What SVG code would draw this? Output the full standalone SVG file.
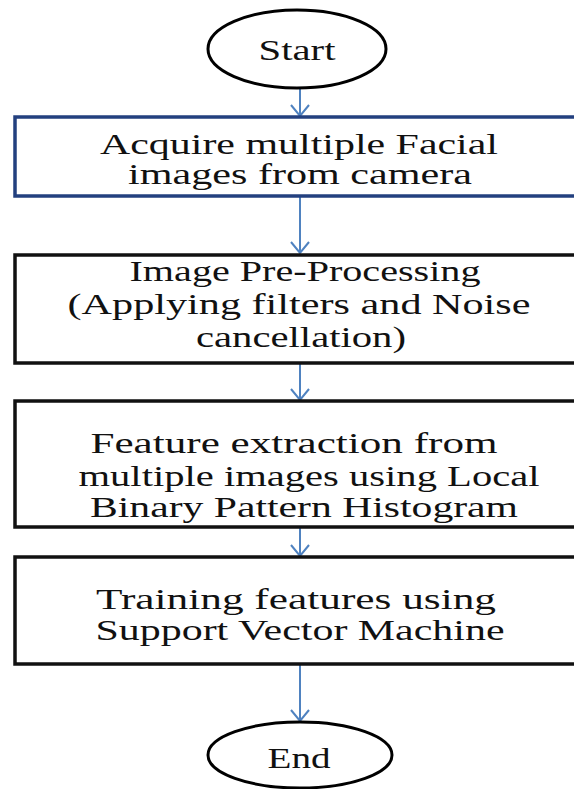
<svg xmlns="http://www.w3.org/2000/svg" width="574" height="789" viewBox="0 0 574 789">
  <style>
    .bg { fill: #ffffff; }
    .term { fill: #ffffff; stroke: #000000; stroke-width: 3; }
    .box { fill: #ffffff; stroke: #111111; stroke-width: 3.5; }
    .box1 { fill: #ffffff; stroke: #23407f; stroke-width: 3.5; }
    .lbl { font-family: "Liberation Serif", "Times New Roman", serif; font-size: 29px; fill: #111111; text-anchor: middle; }
    .conn { stroke: #4f82c0; stroke-width: 2; fill: none; marker-end: url(#arr); }
  </style>
  <defs>
    <marker id="arr" markerUnits="userSpaceOnUse" markerWidth="24" markerHeight="24" viewBox="-12 -12 24 24" refX="0" refY="0" orient="auto">
      <path d="M-11,-9 L0,0 L-11,9" fill="none" stroke="#4f82c0" stroke-width="2"/>
    </marker>
  </defs>
  <rect class="bg" x="0" y="0" width="574" height="789"/>

  <g id="connectors">
    <line class="conn" x1="300" y1="88" x2="300" y2="116"/>
    <line class="conn" x1="300" y1="196" x2="300" y2="253"/>
    <line class="conn" x1="300" y1="363" x2="300" y2="400"/>
    <line class="conn" x1="300" y1="527" x2="300" y2="556"/>
    <line class="conn" x1="300" y1="664" x2="300" y2="721"/>
  </g>

  <g id="start">
    <ellipse class="term" cx="297" cy="49" rx="89" ry="39"/>
    <text class="lbl" x="297" y="60" textLength="77" lengthAdjust="spacingAndGlyphs">Start</text>
  </g>

  <g id="acquire">
    <rect class="box1" x="15" y="117" width="600" height="79"/>
    <text class="lbl" x="299" y="154" textLength="398" lengthAdjust="spacingAndGlyphs">Acquire multiple Facial</text>
    <text class="lbl" x="300" y="184" textLength="344" lengthAdjust="spacingAndGlyphs">images from camera</text>
  </g>

  <g id="preprocess">
    <rect class="box" x="15" y="255" width="600" height="108"/>
    <text class="lbl" x="305" y="281" textLength="351" lengthAdjust="spacingAndGlyphs">Image Pre-Processing</text>
    <text class="lbl" x="299" y="314" textLength="463" lengthAdjust="spacingAndGlyphs">(Applying filters and Noise</text>
    <text class="lbl" x="301" y="347" textLength="210" lengthAdjust="spacingAndGlyphs">cancellation)</text>
  </g>

  <g id="features">
    <rect class="box" x="15" y="401" width="600" height="126"/>
    <text class="lbl" x="294" y="453" textLength="407" lengthAdjust="spacingAndGlyphs">Feature extraction from</text>
    <text class="lbl" x="309" y="486" textLength="461" lengthAdjust="spacingAndGlyphs">multiple images using Local</text>
    <text class="lbl" x="304" y="517" textLength="428" lengthAdjust="spacingAndGlyphs">Binary Pattern Histogram</text>
  </g>

  <g id="training">
    <rect class="box" x="15" y="557" width="600" height="107"/>
    <text class="lbl" x="296" y="609" textLength="400" lengthAdjust="spacingAndGlyphs">Training features using</text>
    <text class="lbl" x="300" y="640" textLength="409" lengthAdjust="spacingAndGlyphs">Support Vector Machine</text>
  </g>

  <g id="end">
    <ellipse class="term" cx="300" cy="755" rx="92" ry="33"/>
    <text class="lbl" x="299" y="768" textLength="63" lengthAdjust="spacingAndGlyphs">End</text>
  </g>
</svg>
